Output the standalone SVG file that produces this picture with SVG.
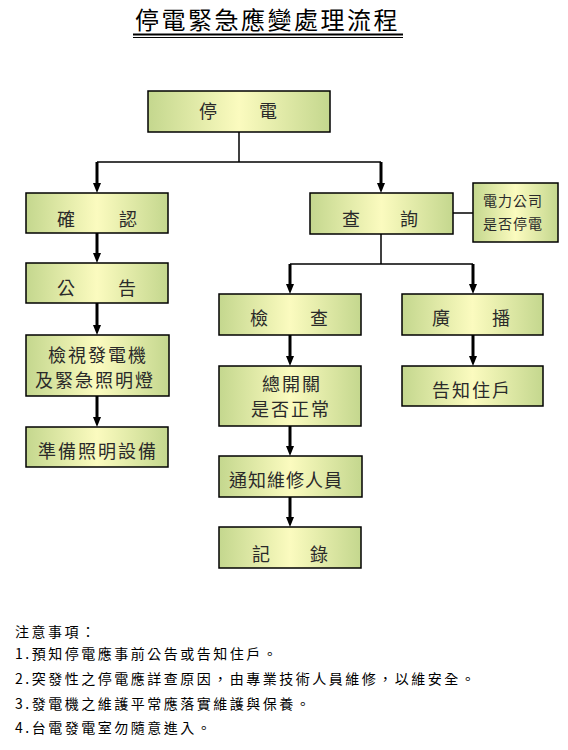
<svg xmlns="http://www.w3.org/2000/svg" width="568" height="750" viewBox="0 0 568 750">
<defs>
<linearGradient id="g" x1="0" y1="0" x2="1" y2="0">
<stop offset="0" stop-color="#c4d78e"/>
<stop offset="0.5" stop-color="#fbfbbf"/>
<stop offset="1" stop-color="#c4d78e"/>
</linearGradient>
<marker id="ah" viewBox="0 0 10 8" refX="5" refY="4" markerWidth="10" markerHeight="8" markerUnits="userSpaceOnUse" orient="auto">
<path d="M0,0 L10,4 L0,8 z" fill="#000"/>
</marker>
</defs>
<style>
.box{fill:url(#g);stroke:#000;stroke-width:1.5}
.lbl{font-family:"Noto Sans CJK TC","Noto Sans CJK SC",sans-serif;font-size:18px;fill:#2a2a2a;text-anchor:middle}
.sm{font-size:14px;letter-spacing:1px}
.ls{letter-spacing:2px}
.thin{stroke:#000;stroke-width:1.5;fill:none}
.arr{stroke:#000;stroke-width:3;fill:none;marker-end:url(#ah)}
.note{font-family:"Noto Sans CJK TC","Noto Sans CJK SC",sans-serif;font-size:14px;letter-spacing:2.5px;fill:#000}
</style>
<rect width="568" height="750" fill="#fff"/>
<g id="title">
<text x="135" y="29" style="font-family:'Noto Sans CJK TC','Noto Sans CJK SC',sans-serif;font-size:24px;letter-spacing:2.5px;fill:#000">停電緊急應變處理流程</text>
<line x1="133" y1="34.5" x2="403" y2="34.5" stroke="#000" stroke-width="2"/>
<line x1="133" y1="37.5" x2="403" y2="37.5" stroke="#000" stroke-width="1"/>
</g>
<g id="connectors">
<polyline class="thin" points="239,132 239,162"/>
<polyline class="thin" points="97,162 381,162"/>
<line class="arr" x1="97" y1="162" x2="97" y2="188"/>
<line class="arr" x1="381" y1="162" x2="381" y2="188"/>
<line class="arr" x1="97" y1="233" x2="97" y2="258"/>
<line class="arr" x1="97" y1="303" x2="97" y2="330"/>
<line class="arr" x1="97" y1="396" x2="97" y2="422"/>
<line class="thin" x1="453" y1="213" x2="473" y2="213"/>
<polyline class="thin" points="381,234 381,264"/>
<polyline class="thin" points="290,264 473,264"/>
<line class="arr" x1="290" y1="264" x2="290" y2="289"/>
<line class="arr" x1="473" y1="264" x2="473" y2="289"/>
<line class="arr" x1="290" y1="335" x2="290" y2="361"/>
<line class="arr" x1="473" y1="335" x2="473" y2="361"/>
<line class="arr" x1="290" y1="426" x2="290" y2="451"/>
<line class="arr" x1="290" y1="497" x2="290" y2="522"/>
</g>
<g id="n-power-out">
<rect class="box" x="148" y="91" width="182" height="41"/>
<text class="lbl" x="208 268" y="118">停電</text>
</g>
<g id="n-confirm">
<rect class="box" x="26" y="193" width="142" height="40"/>
<text class="lbl" x="66 128" y="226">確認</text>
</g>
<g id="n-announce">
<rect class="box" x="26" y="263" width="142" height="40"/>
<text class="lbl" x="66 127" y="295">公告</text>
</g>
<g id="n-inspect-gen">
<rect class="box" x="26" y="335" width="143" height="61"/>
<text class="lbl ls" x="98" y="362">檢視發電機</text>
<text class="lbl ls" x="95" y="387">及緊急照明燈</text>
</g>
<g id="n-prepare">
<rect class="box" x="26" y="427" width="142" height="40"/>
<text class="lbl ls" x="98" y="458">準備照明設備</text>
</g>
<g id="n-inquire">
<rect class="box" x="310" y="193" width="143" height="41"/>
<text class="lbl" x="351 409" y="226">查詢</text>
</g>
<g id="n-company">
<rect class="box" x="473" y="183" width="85" height="59"/>
<text class="lbl sm" x="513" y="206">電力公司</text>
<text class="lbl sm" x="513" y="229">是否停電</text>
</g>
<g id="n-check">
<rect class="box" x="219" y="294" width="142" height="41"/>
<text class="lbl" x="259 319" y="325">檢查</text>
</g>
<g id="n-broadcast">
<rect class="box" x="402" y="294" width="141" height="41"/>
<text class="lbl" x="441 501" y="325">廣播</text>
</g>
<g id="n-switch">
<rect class="box" x="219" y="366" width="142" height="60"/>
<text class="lbl ls" x="292" y="391">總開關</text>
<text class="lbl ls" x="291" y="416">是否正常</text>
</g>
<g id="n-notify-residents">
<rect class="box" x="402" y="366" width="141" height="40"/>
<text class="lbl ls" x="472" y="397">告知住戶</text>
</g>
<g id="n-notify-staff">
<rect class="box" x="219" y="456" width="143" height="41"/>
<text class="lbl" x="286" y="487" style="letter-spacing:1px">通知維修人員</text>
</g>
<g id="n-record">
<rect class="box" x="219" y="527" width="142" height="41"/>
<text class="lbl" x="261 319" y="561">記錄</text>
</g>
<g id="notes">
<text class="note" x="15" y="637">注意事項：</text>
<text class="note" x="15" y="659">1.預知停電應事前公告或告知住戶。</text>
<text class="note" x="15" y="684">2.突發性之停電應詳查原因，由專業技術人員維修，以維安全。</text>
<text class="note" x="15" y="709">3.發電機之維護平常應落實維護與保養。</text>
<text class="note" x="15" y="733">4.台電發電室勿隨意進入。</text>
</g>
</svg>
